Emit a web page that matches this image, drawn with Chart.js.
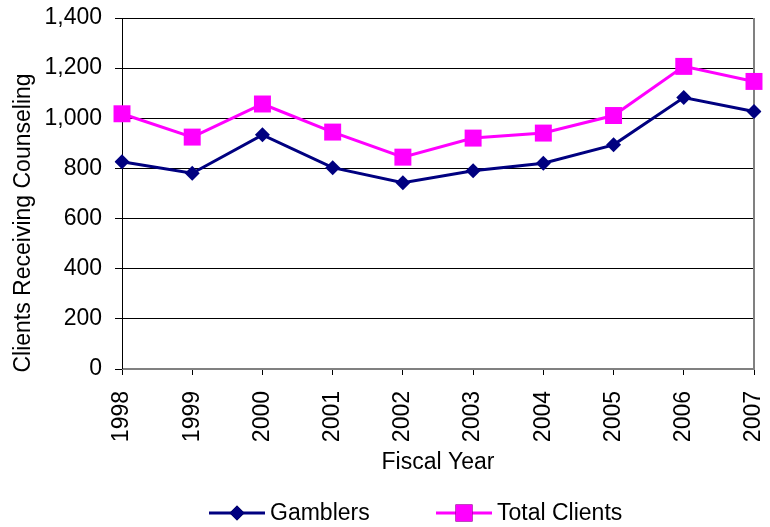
<!DOCTYPE html>
<html>
<head>
<meta charset="utf-8">
<script src="https://cdn.jsdelivr.net/npm/chart.js@4/dist/chart.umd.min.js"></script>
<style>
  html, body { margin: 0; padding: 0; background: #ffffff; }
  #wrap { width: 770px; height: 527px; position: relative; }
</style>
</head>
<body>
<div id="wrap"><canvas id="c" width="770" height="527"></canvas></div>
<script>
const years = ["1998", "1999", "2000", "2001", "2002", "2003", "2004", "2005", "2006", "2007"];
const gamblers = [827, 781, 934, 803, 743, 791, 821, 894, 1083, 1027];
const totalClients = [1018, 925, 1057, 945, 845, 921, 941, 1011, 1207, 1147];
const yTicks = [0, 200, 400, 600, 800, 1000, 1200, 1400];
const yTitle = "Clients Receiving Counseling";
const xTitle = "Fiscal Year";

const FONT = "'Liberation Sans', Arial, sans-serif";

const frameAndTitle = {
  id: 'frameAndTitle',
  beforeDatasetsDraw(chart) {
    const { ctx, chartArea: a } = chart;
    ctx.save();
    ctx.strokeStyle = '#808080';
    ctx.lineWidth = 2;
    ctx.beginPath();
    ctx.moveTo(a.right, a.top);
    ctx.lineTo(a.right, a.bottom);
    ctx.lineTo(a.left, a.bottom);
    ctx.stroke();
    ctx.strokeStyle = '#000000';
    ctx.lineWidth = 1;
    ctx.beginPath();
    ctx.moveTo(a.left + 0.5, a.top);
    ctx.lineTo(a.left + 0.5, a.bottom);
    ctx.stroke();
    ctx.restore();
  },
  afterDraw(chart) {
    const { ctx } = chart;
    ctx.save();
    ctx.translate(24, 223);
    ctx.rotate(-Math.PI / 2);
    ctx.fillStyle = '#000';
    ctx.font = '23px ' + FONT;
    ctx.textAlign = 'center';
    ctx.textBaseline = 'middle';
    ctx.fillText(yTitle, 0, 0);
    ctx.restore();

    const starts = [209, 436];
    const y = 513;
    chart.data.datasets.forEach((ds, i) => {
      const x0 = starts[i];
      ctx.save();
      ctx.strokeStyle = ds.borderColor;
      ctx.lineWidth = 3;
      ctx.beginPath();
      ctx.moveTo(x0, y);
      ctx.lineTo(x0 + 56, y);
      ctx.stroke();
      Chart.helpers.drawPoint(ctx, {
        pointStyle: ds.pointStyle,
        radius: ds.pointRadius,
        borderWidth: 0
      }, x0 + 28, y);
      ctx.fillStyle = ds.pointBackgroundColor;
      ctx.fill();
      ctx.fillStyle = '#000';
      ctx.font = '23px ' + FONT;
      ctx.textAlign = 'left';
      ctx.textBaseline = 'middle';
      ctx.fillText(ds.label, x0 + 61, y + 1);
      ctx.restore();
    });
  }
};

new Chart(document.getElementById('c'), {
  type: 'line',
  data: {
    labels: years,
    datasets: [
      {
        label: 'Gamblers',
        data: gamblers,
        borderColor: '#000080',
        backgroundColor: '#000080',
        pointBackgroundColor: '#000080',
        pointBorderColor: '#000080',
        borderWidth: 3,
        pointStyle: 'rectRot',
        pointRadius: 7.5,
        pointBorderWidth: 0,
        tension: 0
      },
      {
        label: 'Total Clients',
        data: totalClients,
        borderColor: '#FF00FF',
        backgroundColor: '#FF00FF',
        pointBackgroundColor: '#FF00FF',
        pointBorderColor: '#FF00FF',
        borderWidth: 3,
        pointStyle: 'rect',
        pointRadius: 12,
        pointBorderWidth: 0,
        tension: 0
      }
    ]
  },
  options: {
    responsive: false,
    animation: false,
    layout: { padding: { top: 18, right: 16, bottom: 50, left: 0 } },
    plugins: {
      legend: { display: false },
      tooltip: { enabled: false },
      title: { display: false }
    },
    scales: {
      x: {
        offset: false,
        grid: {
          display: true,
          drawOnChartArea: false,
          drawTicks: true,
          tickLength: 6,
          color: '#000000',
          lineWidth: 1
        },
        border: { display: false },
        ticks: {
          color: '#000',
          font: { family: FONT, size: 23 },
          minRotation: 90,
          maxRotation: 90,
          padding: 16,
          autoSkip: false
        },
        title: {
          display: true,
          text: xTitle,
          color: '#000',
          font: { family: FONT, size: 23 },
          padding: { top: 4, bottom: 1 }
        },
        afterFit(scale) {
          scale.height = 108;
          scale.paddingLeft = 0;
          scale.paddingRight = 0;
        }
      },
      y: {
        min: 0,
        max: 1400,
        afterBuildTicks(scale) { scale.ticks = yTicks.map(v => ({ value: v })); },
        grid: {
          color: '#000000',
          lineWidth: 1,
          drawTicks: true,
          tickLength: 7
        },
        border: { display: false },
        ticks: {
          color: '#000',
          font: { family: FONT, size: 23 },
          padding: 13,
          callback: (v) => Number(v).toLocaleString('en-US')
        },
        afterFit(scale) {
          scale.width = 122;
          scale.paddingTop = 0;
          scale.paddingBottom = 0;
        }
      }
    }
  },
  plugins: [frameAndTitle]
});
</script>
</body>
</html>
